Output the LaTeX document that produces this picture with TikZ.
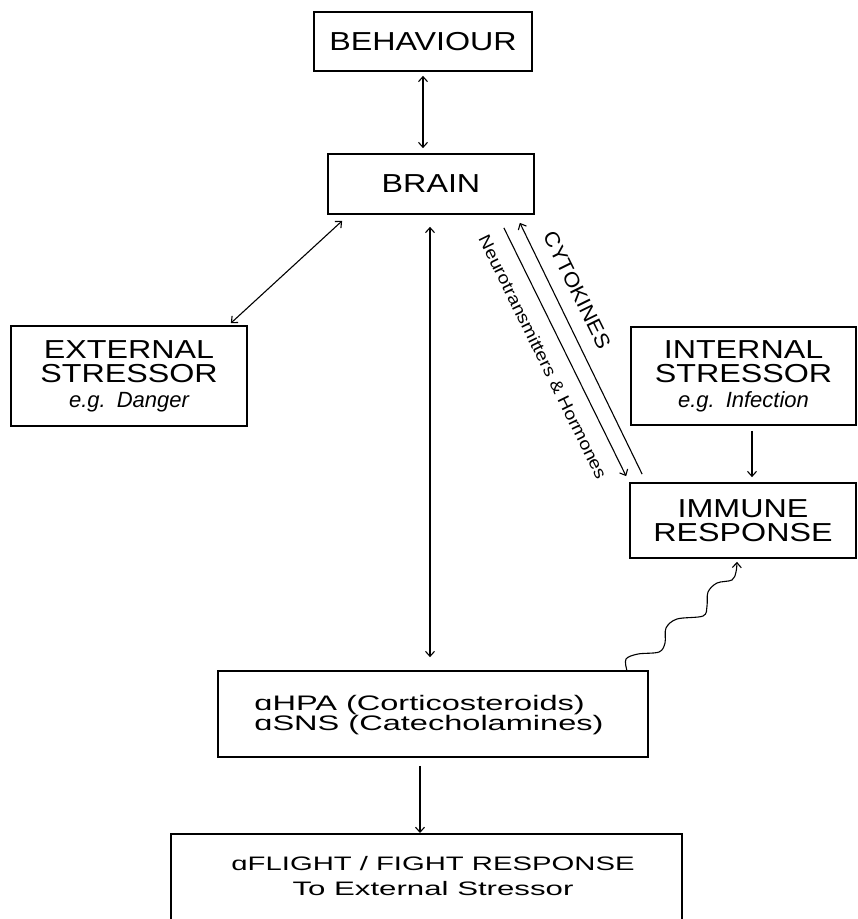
\documentclass[tikz,border=0pt]{standalone}
\usepackage{fontspec}
\setmainfont{Liberation Sans}
\newfontfamily\fA[FakeStretch=1.24]{Liberation Sans}
\newfontfamily\fB[FakeStretch=1.55]{Liberation Sans}
\newfontfamily\fF[FakeStretch=1.5]{Liberation Sans}
\newfontfamily\fG[FakeStretch=1.6]{Liberation Sans}
\newfontfamily\fC[FakeStretch=1.08]{Liberation Sans}
\newfontfamily\fN[FakeStretch=1.15]{Liberation Sans}
\usetikzlibrary{arrows.meta,calc}
\begin{document}
\begin{tikzpicture}[x=1pt,y=-1pt,
  box/.style={draw, line width=1.7pt, inner sep=0pt, align=center},
  big/.style={font=\fA\fontsize{26}{24.5}\selectfont},
  conn/.style={line width=1.1pt, {Straight Barb[length=5pt,width=9pt]}-{Straight Barb[length=5pt,width=9pt]}},
  oneway/.style={line width=1.1pt, -{Straight Barb[length=5pt,width=9pt]}}]
\useasboundingbox (0,0) rectangle (858,919);
\clip (0,0) rectangle (858,919);
\fill[white] (0,0) rectangle (858,919);

\node[box, big, minimum width=218pt, minimum height=59pt] (beh) at (423,41.5) {BEHAVIOUR};
\node[box, big, minimum width=206pt, minimum height=60pt] (brain) at (431,184) {BRAIN};
\node[box, big, minimum width=236pt, minimum height=100pt] (ext) at (129,376) {EXTERNAL\\STRESSOR\\[0pt]{\normalfont\fontsize{22}{24}\selectfont\itshape e.g.\hspace{0.5em}Danger}};
\node[box, big, minimum width=225pt, minimum height=98pt] (int) at (743.5,376) {INTERNAL\\STRESSOR\\[0pt]{\normalfont\fontsize{22}{24}\selectfont\itshape e.g.\hspace{0.5em}Infection}};
\node[box, big, minimum width=226pt, minimum height=75pt] (imm) at (743,520.5) {IMMUNE\\RESPONSE};
\node[box, minimum width=430pt, minimum height=86pt, anchor=center, font=\fB\fontsize{21}{20}\selectfont] (hpa) at (433,714) {};
\node[inner sep=0pt, align=left, font=\fB\fontsize{21}{20}\selectfont] (hpatxt) at (429,715) {ɑHPA (Corticosteroids)\\ɑSNS (Catecholamines)};
\node[box, minimum width=511pt, minimum height=140pt, anchor=north] (flight) at (426.5,833) {};
\node[inner sep=0pt, anchor=north, align=center, font=\fF\fontsize{19.5}{25}\selectfont] (flighttxt) at (433,856) {ɑFLIGHT / FIGHT RESPONSE\\{\fG To External Stressor}};

% connectors
\draw[conn, shorten <=4pt, shorten >=5pt] (beh.south) -- (beh.south |- brain.north);
\coordinate (bx1) at ($(brain.south west)+(15,6)$);
\coordinate (ex1) at ($(ext.north east)+(-17,-2)$);
\draw[conn] (bx1) -- (ex1);
\coordinate (bv) at ($(brain.south)+(-1,0)$);
\draw[conn, shorten <=12pt, shorten >=13pt] (bv) -- (bv |- hpa.north);
\coordinate (hp1) at ($(hpa.south)+(-13,8)$);
\draw[oneway] (hp1) -- (hp1 |- flight.north);
\coordinate (iv) at ($(int.south)+(8.5,0)$);
\draw[oneway, shorten <=5pt, shorten >=5pt] (iv) -- (iv |- imm.north);
\coordinate (n1) at ($(brain.south east)+(-31,13)$);
\coordinate (n2) at ($(imm.north west)+(-3,-6)$);
\draw[oneway] (n1) -- (n2);
\coordinate (c1) at ($(imm.north west)+(13,-8)$);
\coordinate (c2) at ($(brain.south east)+(-15,8)$);
\draw[oneway] (c1) -- (c2);
\node[inner sep=0pt, rotate=-63.8, font=\fC\fontsize{20.5}{20}\selectfont] (cyto) at (577,290) {CYTOKINES};
\node[inner sep=0pt, rotate=-63.8, font=\fN\fontsize{17}{17}\selectfont] (neuro) at (543,357) {Neurotransmitters \& Hormones};

% wavy connector
\coordinate (ws) at ($(hpa.north east)+(-22,0)$);
\coordinate (we) at ($(imm.south)+(-6,3)$);
\draw[oneway] plot[smooth, tension=0.55] coordinates {(ws) (626,659) (638,654) (659,652) (665,643) (666,628) (677,619) (703,616) (707,606) (708,592) (717,583) (732,580) (736,572) (we)};
\end{tikzpicture}
\end{document}
